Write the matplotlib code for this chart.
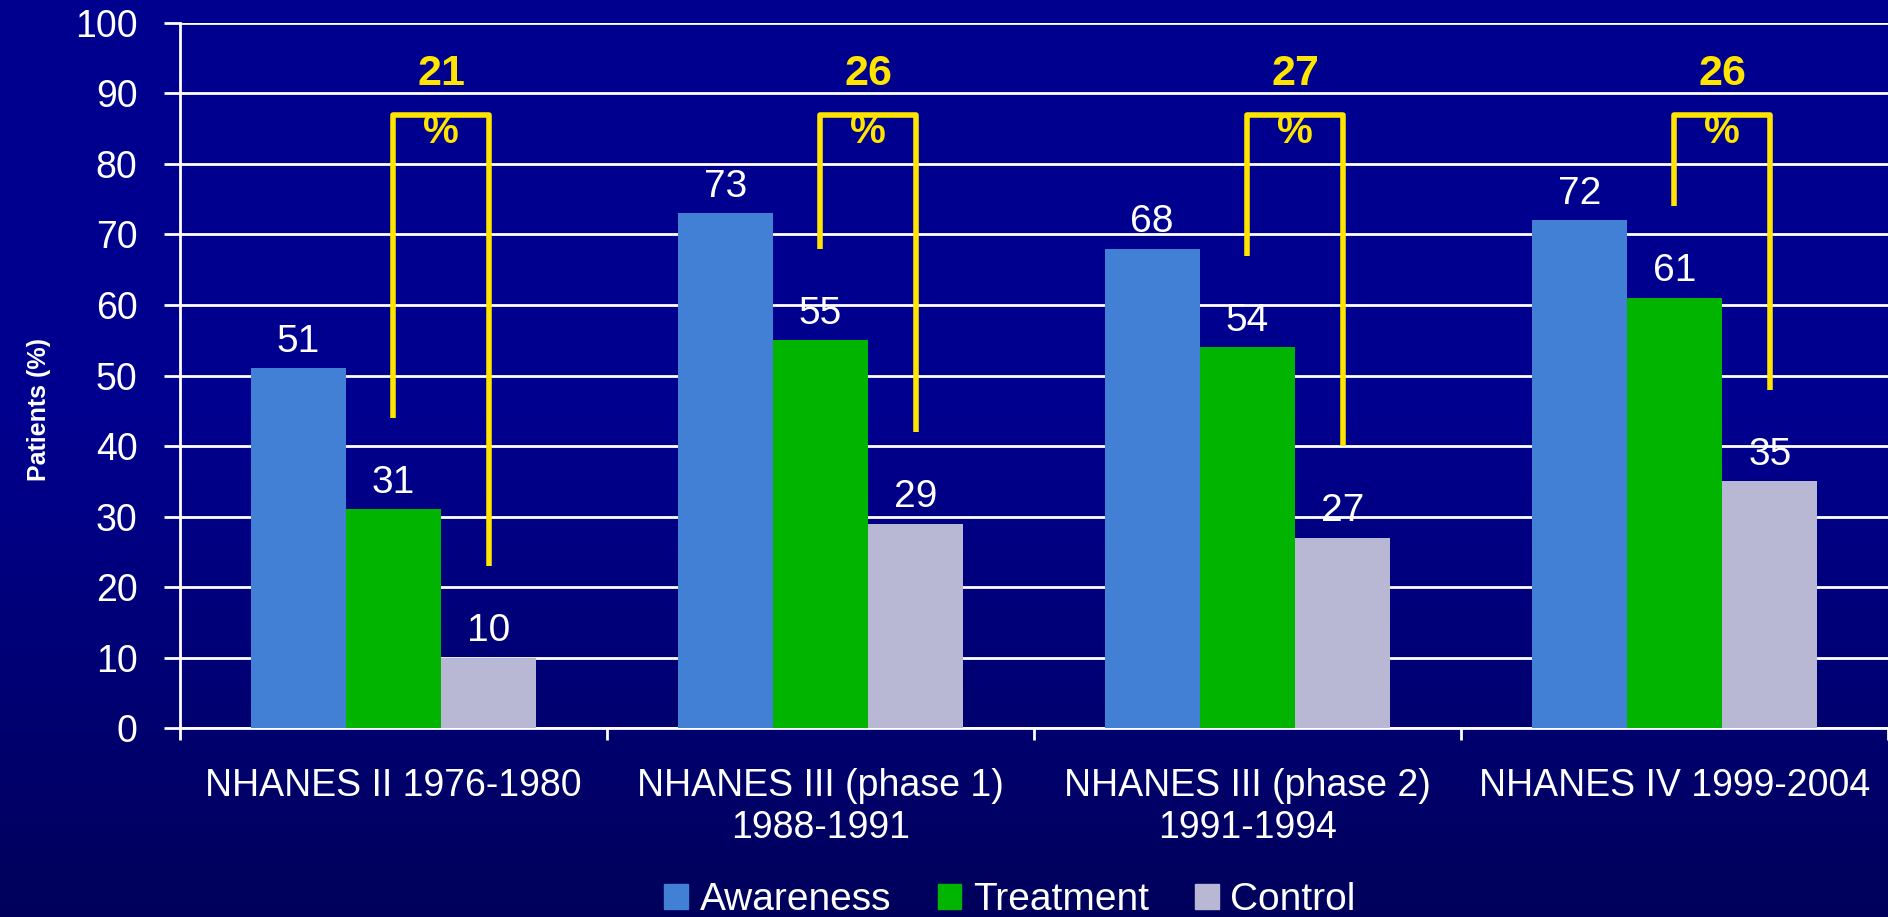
import numpy as np
import matplotlib
matplotlib.use("Agg")
import matplotlib.pyplot as plt
from matplotlib.patches import Patch

# data
surveys = ["NHANES II 1976-1980", "NHANES III (phase 1)\n1988-1991",
           "NHANES III (phase 2)\n1991-1994", "NHANES IV 1999-2004"]
awareness = [51, 73, 68, 72]
treatment = [31, 55, 54, 61]
control = [10, 29, 27, 35]
gap = [21, 26, 27, 26]
series_names = ["Awareness", "Treatment", "Control"]

plt.rcParams['font.family'] = ['Liberation Sans', 'DejaVu Sans']

c_aw = '#4280D6'
c_tr = '#00B400'
c_co = '#B8B8D4'
yellow = '#FFE400'

fig = plt.figure(figsize=(18.88, 9.17), dpi=100)

# background gradient
bg = fig.add_axes([0, 0, 1, 1], zorder=-10)
t = np.linspace(0, 1, 256)
blue = np.where(t < 0.45, 0.56, 0.56 - (t - 0.45) / 0.55 * 0.2)
grad = np.zeros((256, 1, 3))
grad[:, 0, 2] = blue
bg.imshow(grad, aspect='auto', extent=[0, 1, 0, 1])
bg.axis('off')

ax = fig.add_axes([0.0953, 0.206, 0.9047, 0.769])
ax.patch.set_alpha(0)

x = np.arange(len(surveys))
w = 0.223
ax.bar(x - w, awareness, w, color=c_aw, zorder=3)
ax.bar(x, treatment, w, color=c_tr, zorder=3)
ax.bar(x + w, control, w, color=c_co, zorder=3)

for vals, off in [(awareness, -w), (treatment, 0), (control, w)]:
    for i, v in enumerate(vals):
        ax.annotate(str(v), (i + off, v), xytext=(0, 12), textcoords='offset points',
                    ha='center', va='baseline', fontsize=28, color='white', zorder=4)

# brackets: treatment -> control
top = 87
for i in range(len(surveys)):
    ax.plot([i, i, i + w, i + w], [treatment[i] + 13, top, top, control[i] + 13],
            color=yellow, lw=4, solid_joinstyle='round', solid_capstyle='butt', zorder=5)
    ax.text(i + w / 2, 92.8, str(gap[i]), ha='center', va='center', fontsize=31,
            fontweight='bold', color=yellow, zorder=6)
    ax.text(i + w / 2, 84.6, '%', ha='center', va='center', fontsize=29,
            fontweight='bold', color=yellow, zorder=6)

ax.set_xlim(-0.5, len(surveys) - 0.5)
ax.set_ylim(0, 100)
ax.set_yticks(range(0, 101, 10))
ax.yaxis.grid(True, color='white', lw=2)
ax.set_axisbelow(True)

ax.set_xticks(x)
ax.set_xticklabels(surveys)
ax.set_xticks(np.arange(-0.5, len(surveys)), minor=True)
ax.tick_params(axis='x', which='major', length=0, pad=29, labelsize=27, labelcolor='white')
ax.tick_params(axis='x', which='minor', length=8.6, width=2, color='white')
ax.tick_params(axis='y', length=11.5, width=2, color='white', pad=19,
               labelsize=27, labelcolor='white')

for s in ['top', 'right']:
    ax.spines[s].set_visible(False)
for s in ['left', 'bottom']:
    ax.spines[s].set_color('white')
    ax.spines[s].set_linewidth(2)

ax.set_ylabel('Patients (%)', fontsize=18, fontweight='bold', color='white', va='center')
ax.yaxis.set_label_coords(-0.0825, 0.452)

handles = [Patch(color=c) for c in (c_aw, c_tr, c_co)]
fig.legend(handles, series_names, loc='center', bbox_to_anchor=(0.535, 0.018), ncol=3,
           frameon=False, fontsize=28, labelcolor='white', handlelength=0.6,
           handleheight=0.6, handletextpad=0.3, columnspacing=1.2)

fig.savefig('out.png', dpi=100)
